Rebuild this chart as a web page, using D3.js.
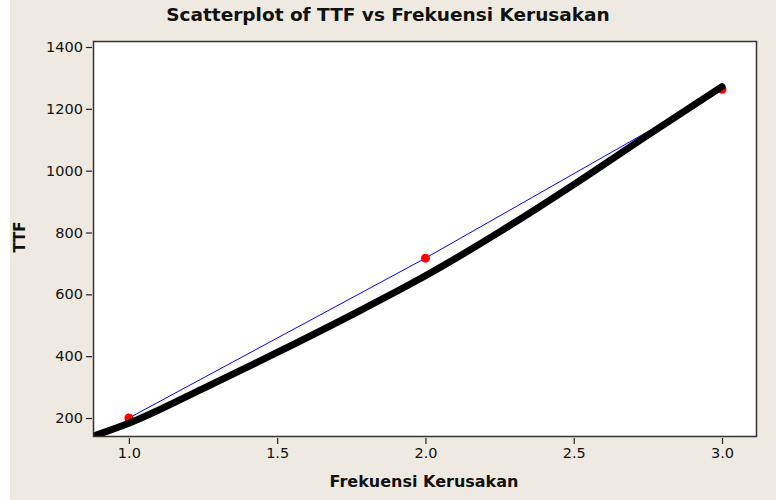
<!DOCTYPE html>
<html lang="en">
  <head>
    <meta charset="UTF-8">
    <title>Scatterplot of TTF vs Frekuensi Kerusakan</title>
    <style>
      body { margin: 0; background: #fff; }
      svg { display: block; font-family: "DejaVu Sans", sans-serif; }
    </style>
    <script src="https://d3js.org/d3.v7.min.js"></script>
  </head>
  <body>
    <script>
      // observed points (red)
      var frekuensi = [1, 2, 3];
      var ttf = [200, 717, 1263];

      // fitted curve (thick black)
      var fitX = [0.89, 1.0, 1.25, 1.5, 1.75, 2.0, 2.25, 2.5, 2.75, 3.0];
      var fitY = [145, 183, 295, 412, 533, 660, 802, 955, 1115, 1272];

      var xTicks = [1.0, 1.5, 2.0, 2.5, 3.0];
      var yTicks = [200, 400, 600, 800, 1000, 1200, 1400];

      var width = 776, height = 500;
      var plotL = 93, plotR = 757, plotT = 41, plotB = 437;

      var svg = d3.select("body").append("svg")
        .attr("width", width)
        .attr("height", height);

      svg.append("rect").attr("width", width).attr("height", height).attr("fill", "#eeeae1");
      svg.append("rect").attr("width", 10).attr("height", height).attr("fill", "#fff");

      var x = d3.scaleLinear().domain([0.879, 3.118]).range([plotL, plotR]);
      var y = d3.scaleLinear().domain([138.6, 1419.4]).range([plotB, plotT]);

      svg.append("rect")
        .attr("x", plotL).attr("y", plotT)
        .attr("width", plotR - plotL).attr("height", plotB - plotT)
        .attr("fill", "#fff");

      svg.append("clipPath").attr("id", "clip")
        .append("rect").attr("x", plotL).attr("y", plotT)
        .attr("width", plotR - plotL).attr("height", plotB - plotT);

      var g = svg.append("g").attr("clip-path", "url(#clip)");

      var pts = frekuensi.map(function (d, i) { return [d, ttf[i]]; });
      var fit = fitX.map(function (d, i) { return [d, fitY[i]]; });

      var line = d3.line()
        .x(function (d) { return x(d[0]); })
        .y(function (d) { return y(d[1]); });

      g.append("path")
        .attr("d", line(pts))
        .attr("fill", "none")
        .attr("stroke", "#0000ff")
        .attr("stroke-width", 1);

      g.selectAll("circle").data(pts).enter().append("circle")
        .attr("cx", function (d) { return x(d[0]); })
        .attr("cy", function (d) { return y(d[1]); })
        .attr("r", 4.5)
        .attr("fill", "#ff0000");

      g.append("path")
        .attr("d", line.curve(d3.curveMonotoneX)(fit))
        .attr("fill", "none")
        .attr("stroke", "#000")
        .attr("stroke-width", 7)
        .attr("stroke-linecap", "round");

      // frame
      svg.append("rect")
        .attr("x", plotL + 0.5).attr("y", plotT + 0.5)
        .attr("width", plotR - plotL - 1).attr("height", plotB - plotT - 1)
        .attr("fill", "none")
        .attr("stroke", "#333")
        .attr("stroke-width", 1.5);

      var xAxis = d3.axisBottom(x).tickValues(xTicks).tickFormat(d3.format(".1f"))
        .tickSizeOuter(0).tickSize(6).tickPadding(4);
      var yAxis = d3.axisLeft(y).tickValues(yTicks).tickFormat(d3.format("d"))
        .tickSizeOuter(0).tickSize(6).tickPadding(3);

      var gx = svg.append("g").attr("transform", "translate(0," + (plotB + 1) + ")").call(xAxis);
      var gy = svg.append("g").attr("transform", "translate(" + (plotL - 1) + ",0)").call(yAxis);
      [gx, gy].forEach(function (a) {
        a.select(".domain").remove();
        a.selectAll(".tick line").attr("stroke", "#222").attr("stroke-width", 1.2);
        a.selectAll("text").attr("fill", "#111").style("font-size", "14.5px")
          .style("font-family", "'DejaVu Sans', sans-serif");
      });

      svg.append("text")
        .attr("x", 388).attr("y", 21)
        .attr("text-anchor", "middle")
        .attr("font-weight", "bold")
        .attr("font-size", 18.5)
        .attr("fill", "#111")
        .text("Scatterplot of TTF vs Frekuensi Kerusakan");

      svg.append("text")
        .attr("x", 424).attr("y", 487)
        .attr("text-anchor", "middle")
        .attr("font-weight", "bold")
        .attr("font-size", 16)
        .attr("fill", "#111")
        .text("Frekuensi Kerusakan");

      svg.append("text")
        .attr("transform", "translate(25,237) rotate(-90)")
        .attr("text-anchor", "middle")
        .attr("font-weight", "bold")
        .attr("font-size", 15)
        .attr("fill", "#111")
        .text("TTF");
    </script>
  </body>
</html>
